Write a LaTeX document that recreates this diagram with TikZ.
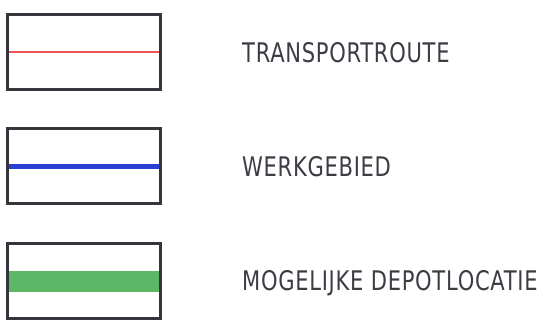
\documentclass[tikz,border=0pt]{standalone}
\usepackage{fontspec}
\newfontfamily\legfont[FakeStretch=0.78,LetterSpace=2.6]{DejaVu Sans}
\definecolor{boxgray}{HTML}{35353B}
\definecolor{txtgray}{HTML}{3C3C44}
\definecolor{routered}{HTML}{F05555}
\definecolor{areablue}{HTML}{2A40D2}
\definecolor{depotgreen}{HTML}{5CB866}
\tikzset{
  legbox/.style={draw=boxgray, line width=3pt, minimum width=153pt, minimum height=75pt, inner sep=0pt, outer sep=0pt},
  legtext/.style={anchor=base west, inner sep=0pt, text=txtgray, font=\legfont\fontsize{27}{27}\selectfont}
}
\begin{document}
\begin{tikzpicture}[x=1pt,y=-1pt]
	\useasboundingbox (0,0) rectangle (545,324);
%	% Legend boxes
	\node[legbox] (b1) at (84,52) {};
	\node[legbox] (b2) at (84,166) {};
	\node[legbox] (b3) at (84,281) {};
%	% Line samples
	\draw[routered, line width=1.5pt, shorten <=1.5pt, shorten >=1.5pt] (b1.west) -- (b1.east);
	\draw[areablue, line width=5pt, shorten <=1.5pt, shorten >=1.5pt] (b2.west) -- (b2.east);
	\draw[depotgreen, line width=21pt, shorten <=1.5pt, shorten >=1.5pt] (b3.west) -- (b3.east);
%	% Labels
	\node[legtext] (t1) at (242,62) {TRANSPORTROUTE};
	\node[legtext] (t2) at (242,176) {WERKGEBIED};
	\node[legtext] (t3) at (242,290) {MOGELIJKE DEPOTLOCATIE};
\end{tikzpicture}
\end{document}
